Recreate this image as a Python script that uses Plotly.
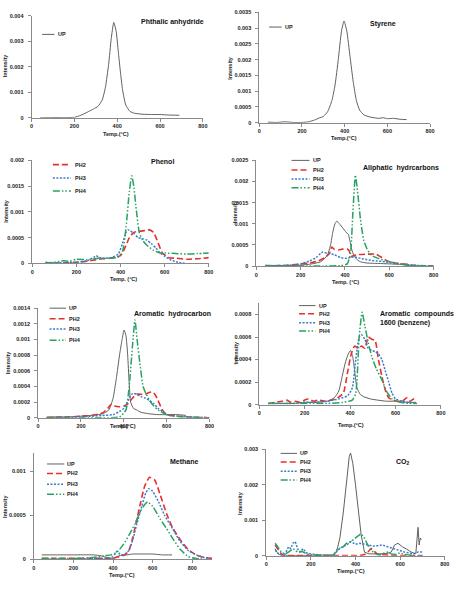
import plotly.graph_objects as go

W, H = 458, 592

# ---------------- DATA ----------------
SERIES_NAMES = ["UP", "PH2", "PH3", "PH4"]

X_TICKS = [0, 200, 400, 600, 800]
X_LABELS = ["0", "200", "400", "600", "800"]

# Panel 1: Phthalic anhydride
pa_up_t = [40, 100, 150, 200, 230, 260, 290, 310, 330, 345, 360, 372, 384, 395, 405, 415, 425, 440, 460, 480, 520, 560, 600, 640, 690]
pa_up_y = [0, 0.00001, 0.00001, 0.00002, 0.0001, 0.00022, 0.00035, 0.00045, 0.0007, 0.0012, 0.0021, 0.0031, 0.00374, 0.0034, 0.0026, 0.0018, 0.0011, 0.0005, 0.00025, 0.00018, 0.00014, 0.00013, 0.00013, 0.00011, 0.0001]
pa_yticks = [0, 0.001, 0.002, 0.003, 0.004]
pa_ylabels = ["0", "0.001", "0.002", "0.003", "0.004"]

# Panel 2: Styrene
st_up_t = [40, 80, 120, 160, 200, 230, 260, 280, 300, 320, 340, 355, 370, 385, 397, 410, 425, 440, 455, 470, 490, 520, 560, 580, 600, 630, 660, 690]
st_up_y = [0.00002, 0.00001, 0.00003, 0.00001, 0.00001, 0.00003, 0.00009, 0.00015, 0.0002, 0.00035, 0.0007, 0.0012, 0.002, 0.0029, 0.00322, 0.0029, 0.0021, 0.0013, 0.0007, 0.0004, 0.00025, 0.00018, 0.00014, 0.00016, 0.00013, 0.00014, 0.00011, 0.0001]
st_yticks = [0, 0.0005, 0.001, 0.0015, 0.002, 0.0025, 0.003, 0.0035]
st_ylabels = ["0", "0.0005", "0.001", "0.0015", "0.002", "0.0025", "0.003", "0.0035"]

# Panel 3: Phenol
ph_ph2_t = [60, 100, 150, 200, 250, 300, 350, 400, 420, 440, 460, 480, 500, 530, 550, 570, 590, 620, 650, 700, 750, 800]
ph_ph2_y = [0.00001, 0, 0.00001, 0.00002, 0.00004, 0.00008, 0.0001, 0.00015, 0.0003, 0.0005, 0.0006, 0.00062, 0.00063, 0.00065, 0.0006, 0.0004, 0.0002, 0.00011, 0.0001, 0.00008, 0.00009, 0.00011]
ph_ph3_t = [60, 100, 150, 200, 250, 280, 290, 300, 330, 360, 390, 410, 425, 435, 445, 460, 480, 500, 520, 540, 560, 580, 600, 630, 660, 690]
ph_ph3_y = [0.00002, 0.00001, 0.00001, 0.00002, 0.00005, 0.00012, 0.00015, 0.00012, 0.0001, 0.00011, 0.00018, 0.0004, 0.0006, 0.00065, 0.00063, 0.00058, 0.0005, 0.00048, 0.00045, 0.00038, 0.0003, 0.0002, 0.00014, 0.00006, 0.00002, 0]
ph_ph4_t = [60, 100, 140, 170, 200, 250, 300, 350, 390, 410, 425, 440, 451, 460, 470, 485, 500, 520, 550, 580, 600, 650, 700, 750, 800]
ph_ph4_y = [0, 0.00002, 0.00005, 0.00004, 0.00008, 0.00007, 0.0001, 0.0001, 0.00012, 0.00025, 0.0007, 0.0014, 0.0017, 0.0015, 0.0011, 0.0006, 0.00045, 0.00035, 0.00025, 0.0002, 0.0002, 0.00019, 0.00018, 0.00019, 0.0002]
ph_yticks = [0, 0.0005, 0.001, 0.0015, 0.002]
ph_ylabels = ["0", "0.0005", "0.001", "0.0015", "0.002"]

# Panel 4: Aliphatic hydrocarbons
al_up_t = [40, 100, 150, 200, 250, 290, 320, 335, 345, 355, 363, 375, 390, 405, 415, 422, 430, 440, 455, 470, 500, 550, 600, 650, 680, 690]
al_up_y = [0.00002, 0.00001, 0.00001, 0.00002, 0.00005, 0.0001, 0.00025, 0.0005, 0.0008, 0.001, 0.00106, 0.001, 0.0009, 0.0008, 0.00075, 0.0006, 0.0004, 0.00025, 0.00015, 0.0001, 0.00007, 0.00006, 0.00005, 0.00004, 0.00005, 0.00003]
al_ph2_t = [40, 100, 150, 200, 250, 280, 310, 330, 340, 350, 370, 390, 410, 420, 425, 440, 460, 500, 540, 560, 580, 600, 640, 680, 720, 800]
al_ph2_y = [0, 0.00001, 0.00002, 0.00005, 0.00008, 0.00012, 0.0002, 0.0003, 0.00045, 0.0004, 0.00038, 0.0004, 0.0004, 0.00035, 0.00022, 0.00025, 0.00027, 0.00028, 0.00028, 0.00022, 0.00015, 0.0001, 0.00006, 0.00003, 0.00001, 0]
al_ph3_t = [40, 100, 150, 200, 240, 270, 290, 300, 320, 350, 380, 410, 440, 470, 500, 540, 580, 620, 660, 700, 750, 800]
al_ph3_y = [0, 0.00001, 0.00002, 0.00005, 0.00012, 0.0002, 0.0003, 0.00033, 0.0003, 0.00027, 0.0002, 0.00018, 0.00022, 0.00018, 0.00015, 0.00012, 0.0001, 0.00006, 0.00004, 0.00002, 0.00001, 0]
al_ph4_t = [40, 100, 200, 300, 380, 410, 425, 435, 447, 458, 470, 485, 500, 520, 550, 580, 620, 660, 700, 800]
al_ph4_y = [0, 0, 0, 0, 0.00001, 0.00005, 0.0003, 0.0012, 0.00215, 0.0017, 0.0011, 0.0006, 0.0004, 0.00025, 0.00018, 0.00013, 0.00008, 0.00004, 0.00001, 0]
al_yticks = [0, 0.0005, 0.001, 0.0015, 0.002, 0.0025]
al_ylabels = ["0", "0.0005", "0.001", "0.0015", "0.002", "0.0025"]

# Panel 5: Aromatic hydrocarbon
ah_up_t = [40, 100, 150, 200, 250, 300, 330, 350, 365, 380, 392, 401, 410, 418, 425, 432, 445, 460, 480, 520, 560, 600, 650, 690]
ah_up_y = [0.00001, 0.00001, 0.00001, 0.00002, 0.00003, 0.00005, 0.0001, 0.00025, 0.0005, 0.0008, 0.001, 0.00112, 0.00105, 0.0008, 0.00045, 0.0002, 0.00012, 0.0001, 0.00007, 0.00005, 0.00004, 0.00004, 0.00004, 0.00003]
ah_ph2_t = [40, 100, 150, 200, 250, 300, 325, 340, 355, 380, 400, 420, 440, 460, 480, 500, 515, 530, 545, 560, 580, 600, 650, 700, 800]
ah_ph2_y = [0, 0.00001, 0.00001, 0.00002, 0.00003, 0.00006, 0.00012, 0.00017, 0.00015, 0.00014, 0.00015, 0.00018, 0.00025, 0.0003, 0.0003, 0.0003, 0.00032, 0.00033, 0.0003, 0.00022, 0.0001, 0.00004, 0.00002, 0.00001, 0]
ah_ph3_t = [40, 150, 250, 300, 350, 380, 400, 420, 435, 445, 460, 480, 500, 520, 540, 560, 580, 600, 650, 700, 800]
ah_ph3_y = [0, 0.00001, 0.00002, 0.00003, 0.00004, 0.00008, 0.00012, 0.00022, 0.0003, 0.00031, 0.0003, 0.00027, 0.00025, 0.00022, 0.00018, 0.00012, 0.00008, 0.00004, 0.00002, 0.00001, 0]
ah_ph4_t = [40, 200, 300, 380, 410, 425, 440, 452, 462, 475, 490, 505, 520, 540, 560, 600, 650, 700, 800]
ah_ph4_y = [0, 0, 0, 0.00001, 0.0001, 0.0004, 0.0009, 0.00125, 0.001, 0.0007, 0.0004, 0.0003, 0.00022, 0.00015, 0.0001, 0.00004, 0.00002, 0.00001, 0]
ah_yticks = [0, 0.0002, 0.0004, 0.0006, 0.0008, 0.001, 0.0012, 0.0014]
ah_ylabels = ["0", "0.0002", "0.0004", "0.0006", "0.0008", "0.001", "0.0012", "0.0014"]

# Panel 6: Aromatic compounds 1600 (benzene)
ac_up_t = [40, 100, 150, 200, 250, 300, 330, 350, 365, 380, 392, 402, 412, 420, 430, 445, 460, 490, 520, 560, 600, 650, 690]
ac_up_y = [0.00001, 0.00001, 0.00001, 0.00002, 0.00002, 0.00003, 0.00006, 0.00012, 0.00025, 0.00038, 0.00045, 0.00048, 0.00042, 0.0003, 0.00015, 0.00009, 0.00007, 0.00005, 0.00004, 0.00003, 0.00003, 0.00002, 0.00002]
ac_ph2_t = [40, 70, 100, 120, 140, 160, 180, 200, 215, 240, 260, 290, 320, 345, 370, 390, 405, 420, 435, 450, 465, 480, 495, 510, 525, 540, 555, 570, 590, 610, 630, 650, 665, 680, 695]
ac_ph2_y = [0.00001, 0.00002, 0.00003, 0.00004, 0.00002, 0.00003, 0.00002, 0.00004, 0.00005, 0.00003, 0.00004, 0.00003, 0.00004, 0.00006, 0.0001, 0.0003, 0.00045, 0.00052, 0.0005, 0.00052, 0.0005, 0.0006, 0.00058, 0.00057, 0.0004, 0.00025, 0.00013, 0.00006, 0.00004, 0.00003, 0.00003, 0.00006, 0.00003, 0.00005, 0.00005]
ac_ph3_t = [40, 100, 150, 200, 250, 300, 350, 390, 410, 425, 440, 450, 465, 480, 495, 510, 525, 540, 555, 570, 585, 600, 630, 660, 695]
ac_ph3_y = [0.00001, 0.00001, 0.00001, 0.00002, 0.00002, 0.00003, 0.00005, 0.00008, 0.00015, 0.0004, 0.0006, 0.00062, 0.00058, 0.0005, 0.00048, 0.00047, 0.00045, 0.0004, 0.0003, 0.0002, 0.0001, 0.00005, 0.00003, 0.00002, 0.00001]
ac_ph4_t = [40, 100, 200, 300, 370, 410, 425, 440, 453, 465, 480, 495, 515, 540, 560, 585, 620, 660, 695]
ac_ph4_y = [0.00001, 0.00001, 0.00001, 0.00001, 0.00002, 0.00004, 0.0001, 0.0006, 0.00082, 0.0007, 0.00055, 0.00043, 0.00032, 0.00022, 0.00012, 0.00005, 0.00002, 0.00001, 0.00001]
ac_yticks = [0, 0.0002, 0.0004, 0.0006, 0.0008]
ac_ylabels = ["0", "0.0002", "0.0004", "0.0006", "0.0008"]

# Panel 7: Methane
me_up_t = [40, 100, 200, 300, 340, 370, 400, 430, 470, 500, 550, 600, 650, 698]
me_up_y = [0.00005, 0.00005, 0.00005, 0.00005, 0.00004, 0.00002, 0.00001, 0.00004, 0.00005, 0.00006, 0.00006, 0.00006, 0.00005, 0.00005]
me_ph2_t = [40, 100, 200, 300, 350, 380, 400, 430, 460, 480, 500, 520, 540, 560, 585, 610, 640, 670, 700, 740, 780, 820, 860, 900]
me_ph2_y = [0.00001, 0.00001, 0.00001, 0.00001, 0.00001, 0.00001, 0.00001, 0.00003, 0.00005, 0.0001, 0.00025, 0.00045, 0.00065, 0.00083, 0.00093, 0.0009, 0.00072, 0.00052, 0.00036, 0.00022, 0.00011, 0.00005, 0.00002, 0.00001]
me_ph3_t = [40, 200, 300, 370, 400, 420, 440, 460, 480, 500, 520, 545, 565, 580, 600, 630, 660, 700, 740, 780, 820, 860, 900]
me_ph3_y = [0, 0, 0.00001, 0.00001, 0.00003, 0.00009, 0.00005, 0.00006, 0.0001, 0.00022, 0.0004, 0.0006, 0.00075, 0.0008, 0.00077, 0.00065, 0.0005, 0.00035, 0.0002, 0.0001, 0.00005, 0.00002, 0]
me_ph4_t = [40, 200, 300, 360, 390, 420, 450, 480, 510, 540, 560, 575, 600, 640, 670, 700, 740, 780, 820, 860]
me_ph4_y = [0.00001, 0.00001, 0.00002, 0.00004, 0.00005, 0.00008, 0.00016, 0.00027, 0.0004, 0.00055, 0.00062, 0.00065, 0.0006, 0.00045, 0.00035, 0.00024, 0.00011, 0.00003, 0.00001, 0]
me_yticks = [0, 0.0005, 0.001]
me_ylabels = ["0", "0.0005", "0.001"]

# Panel 8: CO2
co_up_t = [40, 50, 60, 80, 120, 200, 280, 300, 315, 330, 345, 360, 372, 378, 388, 400, 410, 425, 440, 460, 500, 540, 560, 575, 590, 610, 630, 650, 670, 680, 685, 690, 695]
co_up_y = [0.0002, 0.00008, 0.00003, 0.00001, 0, 0, 0, 0.00002, 0.0001, 0.0005, 0.0012, 0.0022, 0.0028, 0.0029, 0.0026, 0.002, 0.0014, 0.0006, 0.0001, 0.00005, 0.00005, 0.00006, 0.0001, 0.0003, 0.00035, 0.00025, 0.00018, 0.0001, 0.00005, 0.0008, 0.0003, 0.0005, 0.00045]
co_ph2_t = [40, 50, 60, 70, 80, 150, 250, 350, 420, 440, 455, 470, 480, 500, 600, 700]
co_ph2_y = [0.0003, 0.0002, 0.0001, 0.00003, 0, 0, 0, 0, 0, 0.00003, 0.0001, 0.0002, 0.00015, 0.00003, 0, 0]
co_ph3_t = [40, 55, 70, 85, 100, 110, 120, 130, 140, 150, 165, 180, 200, 230, 260, 300, 320, 340, 360, 380, 400, 420, 440, 460, 480, 500, 520, 540, 560, 580, 600, 620, 640, 660, 680, 700]
co_ph3_y = [0.00015, 0.00005, 0.00002, 0.00005, 0.00025, 0.0002, 0.00035, 0.0004, 0.0002, 0.0001, 0.0002, 0.00008, 0.00005, 0.00002, 0, 0.00001, 0.00015, 0.00025, 0.0003, 0.0004, 0.00032, 0.00035, 0.00033, 0.0003, 0.00027, 0.00028, 0.0003, 0.00026, 0.00022, 0.00018, 0.00012, 0.0001, 0.00008, 0.00005, 0.0001, 0.0001]
co_ph4_t = [40, 55, 70, 85, 100, 120, 140, 160, 180, 200, 250, 300, 320, 340, 360, 380, 400, 415, 425, 440, 455, 470, 490, 510, 530, 545, 560, 580, 600, 620, 640, 660, 700]
co_ph4_y = [0.00035, 0.00022, 0.00008, 0.00005, 0.0001, 0.0002, 0.0001, 0.00012, 0.00005, 0.00002, 0, 0, 0.0002, 0.00022, 0.00035, 0.0004, 0.0005, 0.00058, 0.00062, 0.0005, 0.0003, 0.00015, 0.00005, 0.00002, 0.00008, 0.0001, 0.00005, 0.00003, 0.00008, 0.00003, 0.00001, 0, 0]
co_yticks = [0, 0.001, 0.002, 0.003]
co_ylabels = ["0", "0.001", "0.002", "0.003"]

# ---------------- STYLE / LAYOUT ----------------
STYLE = {
    "UP": dict(color="#606060", width=1.0, dash="solid"),
    "PH2": dict(color="#e8302a", width=1.6, dash="6px,3px"),
    "PH3": dict(color="#3a7ccc", width=1.5, dash="2px,1.5px"),
    "PH4": dict(color="#27a262", width=1.5, dash="7px,2px,1.5px,2px,1.5px,2px"),
}
FONT = "Liberation Sans, Arial, sans-serif"


def fx(p):
    return p / W


def fy(p):
    return 1 - p / H


panels = [
    dict(title="Phthalic anhydride", box=(30, 204, 13, 116), xr=[0, 800], yr=[0, 0.004],
         yt=pa_yticks, yl=pa_ylabels, series=[("UP", pa_up_t, pa_up_y)],
         title_xy=(173, 19), xtitle="Temp.(°C)", xtitle_xy=(116, 132.5), ytitle_xy=(3, 63),
         leg=(40.7, 53.3, 55, [31.7])),
    dict(title="Styrene", box=(261.3, 434.7, 9.3, 121), xr=[0, 800], yr=[0, 0.0035],
         yt=st_yticks, yl=st_ylabels, series=[("UP", st_up_t, st_up_y)],
         title_xy=(387, 21), xtitle="Temp.(°C)", xtitle_xy=(347, 136.5), ytitle_xy=(232, 65),
         leg=(271.3, 284, 285, [24.3])),
    dict(title="Phenol", box=(30.7, 210, 159, 263), xr=[0, 800], yr=[0, 0.002],
         yt=ph_yticks, yl=ph_ylabels,
         series=[("PH2", ph_ph2_t, ph_ph2_y), ("PH3", ph_ph3_t, ph_ph3_y), ("PH4", ph_ph4_t, ph_ph4_y)],
         title_xy=(163, 160.5), xtitle="Temp. (°C)", xtitle_xy=(123, 279), ytitle_xy=(4, 210),
         leg=(51.7, 70, 71.7, [163.3, 176.7, 190])),
    dict(title="Aliphatic  hydrcarbons", box=(258.3, 438.3, 159, 265.7), xr=[0, 800], yr=[0, 0.0025],
         yt=al_yticks, yl=al_ylabels,
         series=[("UP", al_up_t, al_up_y), ("PH2", al_ph2_t, al_ph2_y), ("PH3", al_ph3_t, al_ph3_y), ("PH4", al_ph4_t, al_ph4_y)],
         title_xy=(405.7, 166.7), xtitle="Temp. (°C)", xtitle_xy=(349, 282), ytitle_xy=(236, 210),
         leg=(294, 312.3, 313.3, [159, 168.7, 177.7, 186.7])),
    dict(title="Aromatic  hydrocarbon", box=(36.7, 210.7, 308.3, 419), xr=[0, 800], yr=[0, 0.0014],
         yt=ah_yticks, yl=ah_ylabels,
         series=[("UP", ah_up_t, ah_up_y), ("PH2", ah_ph2_t, ah_ph2_y), ("PH3", ah_ph3_t, ah_ph3_y), ("PH4", ah_ph4_t, ah_ph4_y)],
         title_xy=(173.3, 314), xtitle="Temp.(°C)", xtitle_xy=(123, 427.7), ytitle_xy=(6, 363),
         leg=(48.3, 65, 66, [308.3, 319, 329.3, 340.7])),
    dict(title="Aromatic  compounds<br>1600 (benzene)", box=(261.3, 445.7, 303.3, 405.7), xr=[0, 800], yr=[0, 0.0009],
         yt=ac_yticks, yl=ac_ylabels,
         series=[("UP", ac_up_t, ac_up_y), ("PH2", ac_ph2_t, ac_ph2_y), ("PH3", ac_ph3_t, ac_ph3_y), ("PH4", ac_ph4_t, ac_ph4_y)],
         title_xy=(382.3, 308), title_left=True, xtitle="Temp.(°C)", xtitle_xy=(354, 426), ytitle_xy=(237.7, 353),
         leg=(301.7, 318.3, 319.7, [305.7, 314, 323, 331.3])),
    dict(title="Methane", box=(32.3, 213.3, 455, 562), xr=[0, 900], yr=[0, 0.0012],
         yt=me_yticks, yl=me_ylabels,
         series=[("UP", me_up_t, me_up_y), ("PH2", me_ph2_t, me_ph2_y), ("PH3", me_ph3_t, me_ph3_y), ("PH4", me_ph4_t, me_ph4_y)],
         title_xy=(185, 463.3), xtitle="Temp.(°C)", xtitle_xy=(121.7, 578.3), ytitle_xy=(3.3, 508),
         leg=(45.7, 63.3, 64.3, [465.7, 475.3, 486.3, 496.3])),
    dict(title="CO<sub>2</sub>", box=(268.3, 449.7, 451, 558.3), xr=[0, 800], yr=[0, 0.003],
         yt=co_yticks, yl=co_ylabels,
         series=[("UP", co_up_t, co_up_y), ("PH2", co_ph2_t, co_ph2_y), ("PH3", co_ph3_t, co_ph3_y), ("PH4", co_ph4_t, co_ph4_y)],
         title_xy=(407.3, 464), xtitle="Tiemp.(°C)", xtitle_xy=(354, 574.3), ytitle_xy=(241.7, 505),
         leg=(283, 299.7, 300.7, [455, 463.7, 473, 482]), linear=True),
]

fig = go.Figure()
layout = dict(width=W, height=H, margin=dict(l=0, r=0, t=0, b=0),
              paper_bgcolor="white", plot_bgcolor="white", showlegend=False,
              font=dict(family=FONT, size=6, color="#222"))
annotations = []
shapes = []
tickfont = dict(family=FONT, size=5.5, color="#222", weight=700)
axfont = dict(family=FONT, size=5.5, color="#222", weight=700)

for i, p in enumerate(panels, start=1):
    x0, x1, ytop, ybot = p["box"]
    xa = "x" if i == 1 else f"x{i}"
    ya = "y" if i == 1 else f"y{i}"
    layout["xaxis" if i == 1 else f"xaxis{i}"] = dict(
        domain=[fx(x0), fx(x1)], range=p["xr"], anchor=ya, showgrid=False, zeroline=False,
        showline=True, linecolor="#8a8a8a", linewidth=1, ticks="outside", ticklen=3,
        tickcolor="#8a8a8a", tickvals=X_TICKS, ticktext=X_LABELS, tickfont=tickfont)
    layout["yaxis" if i == 1 else f"yaxis{i}"] = dict(
        domain=[fy(ybot), fy(ytop)], range=p["yr"], anchor=xa, showgrid=False, zeroline=False,
        showline=True, linecolor="#8a8a8a", linewidth=1, ticks="outside", ticklen=3,
        tickcolor="#8a8a8a", tickvals=p["yt"], ticktext=p["yl"], tickfont=tickfont,
        ticklabelstandoff=3)
    for name, t, y in p["series"]:
        shape = "linear" if p.get("linear") else "spline"
        fig.add_trace(go.Scatter(x=t, y=y, mode="lines", name=name, xaxis=xa, yaxis=ya,
                                 line=dict(**STYLE[name], shape=shape, smoothing=0.5),
                                 showlegend=False, hoverinfo="skip"))
    # chart title
    tx, ty = p["title_xy"]
    if p.get("title_left"):
        annotations.append(dict(text=f"<b>{p['title']}</b>", x=fx(tx), y=fy(ty), xref="paper", yref="paper",
                                xanchor="left", yanchor="top", align="left", showarrow=False,
                                font=dict(family=FONT, size=7, color="#111")))
    else:
        annotations.append(dict(text=f"<b>{p['title']}</b>", x=fx(tx), y=fy(ty), xref="paper", yref="paper",
                                xanchor="center", yanchor="middle", showarrow=False,
                                font=dict(family=FONT, size=7, color="#111")))
    # axis titles
    ax_, ay_ = p["xtitle_xy"]
    annotations.append(dict(text=p["xtitle"], x=fx(ax_), y=fy(ay_), xref="paper", yref="paper",
                            xanchor="center", yanchor="middle", showarrow=False, font=axfont))
    yx, yy = p["ytitle_xy"]
    annotations.append(dict(text="Intensity", x=fx(yx), y=fy(yy), xref="paper", yref="paper",
                            xanchor="center", yanchor="middle", showarrow=False, textangle=-90,
                            font=axfont))
    # legend keys
    lx0, lx1, ltx, lys = p["leg"]
    for (name, _, _), ly in zip(p["series"], lys):
        st = STYLE[name]
        shapes.append(dict(type="line", xref="paper", yref="paper", x0=fx(lx0), x1=fx(lx1),
                           y0=fy(ly), y1=fy(ly),
                           line=dict(color=st["color"], width=st["width"], dash=st["dash"])))
        annotations.append(dict(text=name, x=fx(ltx), y=fy(ly), xref="paper", yref="paper",
                                xanchor="left", yanchor="middle", showarrow=False,
                                font=dict(family=FONT, size=5.5, color="#222", weight=700)))

layout["annotations"] = annotations
layout["shapes"] = shapes
fig.update_layout(**layout)
fig.write_html("out.html")
